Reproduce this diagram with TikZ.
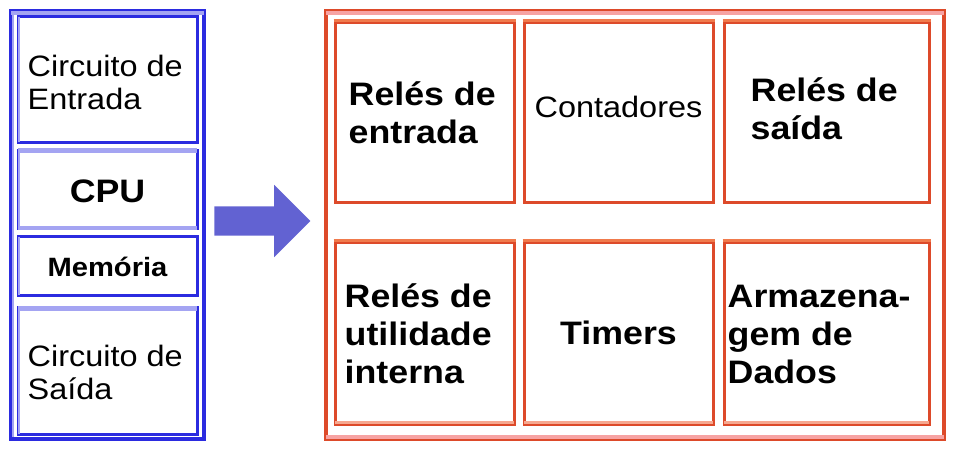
\documentclass[tikz,border=0pt]{standalone}
\usepackage{fontspec}
\setmainfont{Liberation Sans}
\newfontfamily\wide[FakeStretch=1.1]{Liberation Sans}
\usetikzlibrary{shapes.arrows}
\definecolor{dblue}{HTML}{2B2BE0}
\definecolor{lblue}{HTML}{A4A4F2}
\definecolor{aro}{HTML}{6262D2}
\definecolor{dred}{HTML}{DD4A2A}
\definecolor{mred}{HTML}{F07A4C}
\definecolor{lred}{HTML}{F6A890}
\definecolor{pinkb}{HTML}{F7A3A3}
\tikzset{
  lbox/.style={rectangle, draw=dblue, line width=3pt, fill=white, inner sep=0pt},
  rbox/.style={rectangle, draw=dred, line width=3pt, fill=white, inner sep=0pt},
  ltxt/.style={font=\wide\fontsize{29.5}{33}\selectfont, align=left, inner sep=0pt, text=black},
  rtxt/.style={font=\wide\bfseries\fontsize{32.5}{38}\selectfont, align=left, inner sep=0pt, text=black},
  band/.style={line width=4pt},
}
\begin{document}
\begin{tikzpicture}[x=1pt,y=-1pt]
\useasboundingbox (0,0) rectangle (964,448);
% left panel
\node[rectangle, draw=dblue, line width=3.5pt, minimum width=193pt, minimum height=428pt, inner sep=0pt] (lout) at (107.5,225) {};
\draw[lblue, band] ([xshift=2pt,yshift=-4pt]lout.north west) -- ([xshift=-2pt,yshift=-4pt]lout.north east);
\draw[lblue, line width=2pt] ([xshift=3.5pt,yshift=-6pt]lout.north west) -- ([xshift=3.5pt,yshift=4pt]lout.south west);
\node[lbox, minimum width=179pt, minimum height=126pt] (b1) at (107.5,79) {};
\node[lbox, minimum width=179pt, minimum height=78pt] (b2) at (107.5,189) {};
\node[lbox, minimum width=179pt, minimum height=59pt] (b3) at (107.5,266) {};
\node[lbox, minimum width=179pt, minimum height=127pt] (b4) at (107.5,371) {};
\foreach \b in {b2,b4}{
  \draw[lblue, line width=5pt] ([xshift=1.5pt,yshift=-2pt]\b.north west) -- ([xshift=-1.5pt,yshift=-2pt]\b.north east);
}
\draw[lblue, line width=4pt] ([xshift=1.5pt,yshift=2pt]b2.south west) -- ([xshift=-1.5pt,yshift=2pt]b2.south east);
\foreach \b in {b1,b2,b3,b4}{
  \draw[lblue, line width=2pt] ([xshift=2.5pt,yshift=-2pt]\b.north west) -- ([xshift=2.5pt,yshift=2pt]\b.south west);
}
\node[ltxt, anchor=west] (t1) at ([xshift=11pt,yshift=-3pt]b1.west) {Circuito de\\Entrada};
\node[ltxt, font=\wide\bfseries\fontsize{32.5}{33}\selectfont] (t2) at ([yshift=-2pt]b2.center) {CPU};
\node[ltxt, font=\wide\bfseries\fontsize{26.5}{28}\selectfont] (t3) at ([yshift=-1pt]b3.center) {Memória};
\node[ltxt, anchor=west] (t4) at ([xshift=11pt,yshift=-1pt]b4.west) {Circuito de\\Saída};
% arrow
\node[single arrow, fill=aro, draw=none, minimum height=96pt, inner xsep=0pt, inner ysep=14.5pt,
      single arrow head extend=21.5pt] (arr) at (255,221) {};
% right panel
\node[rectangle, draw=dred, line width=3.5pt, minimum width=618pt, minimum height=428pt, inner sep=0pt] (rout) at (635,225) {};
\draw[pinkb, band] ([xshift=2pt,yshift=-4pt]rout.north west) -- ([xshift=-2pt,yshift=-4pt]rout.north east);
\draw[pinkb, band] ([xshift=2pt,yshift=4pt]rout.south west) -- ([xshift=-2pt,yshift=4pt]rout.south east);
\node[rbox, minimum width=179pt, minimum height=180pt] (r1) at (424.5,112) {};
\node[rbox, minimum width=189pt, minimum height=180pt] (r2) at (618.5,112) {};
\node[rbox, minimum width=205pt, minimum height=180pt] (r3) at (826.5,112) {};
\node[rbox, minimum width=179pt, minimum height=182pt] (r4) at (424.5,333) {};
\node[rbox, minimum width=189pt, minimum height=182pt] (r5) at (618.5,333) {};
\node[rbox, minimum width=205pt, minimum height=182pt] (r6) at (826.5,333) {};
\foreach \b in {r1,r2,r3,r4,r5,r6}{
  \draw[mred, line width=3.5pt] (\b.north west) -- (\b.north east);
}
\foreach \b in {r4,r5,r6}{
  \draw[lred, line width=3pt] ([xshift=1.5pt,yshift=3pt]\b.south west) -- ([xshift=-1.5pt,yshift=3pt]\b.south east);
}
\node[rtxt, anchor=west] (s1) at ([xshift=15pt,yshift=-1pt]r1.west) {Relés de\\entrada};
\node[rtxt, font=\wide\fontsize{29.5}{33}\selectfont] (s2) at ([yshift=5pt]r2.center) {Contadores};
\node[rtxt, anchor=west] (s3) at ([xshift=28pt,yshift=3pt]r3.west) {Relés de\\saída};
\node[rtxt, anchor=west] (s4) at ([xshift=11pt,yshift=-1pt]r4.west) {Relés de\\utilidade\\interna};
\node[rtxt] (s5) at (r5.center) {Timers};
\node[rtxt, anchor=west] (s6) at ([xshift=5pt,yshift=-1pt]r6.west) {Armazena-\\gem de\\Dados};
\end{tikzpicture}
\end{document}
